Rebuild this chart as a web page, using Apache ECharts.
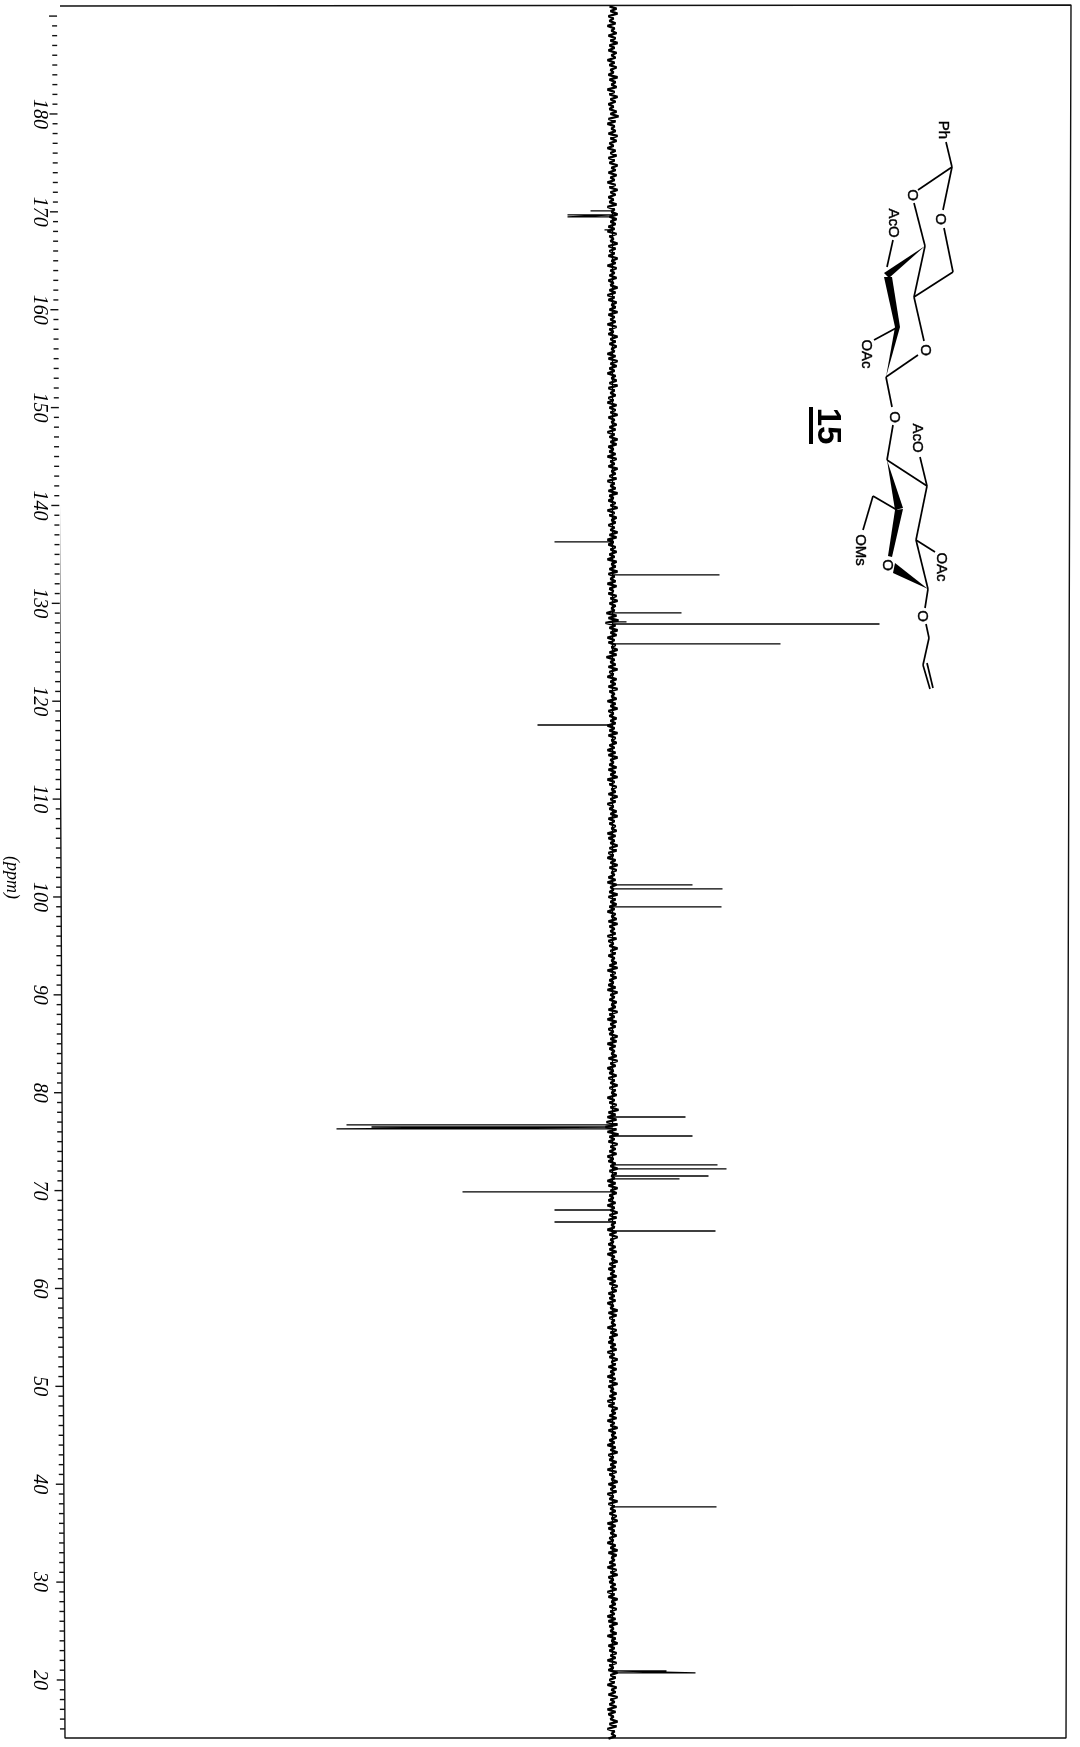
<!DOCTYPE html>
<html>
<head>
<meta charset="utf-8">
<style>html,body{margin:0;padding:0;background:#fff}#c{width:1080px;height:1747px}</style>
<script src="https://cdn.jsdelivr.net/npm/echarts@6/dist/echarts.min.js"></script>
</head>
<body>
<div id="c"></div>
<script>
// Tick labels on the chemical-shift axis (ppm)
const tickLabels = [20,30,40,50,60,70,80,90,100,110,120,130,140,150,160,170,180];
// Peaks: position (ppm) and signed height (arbitrary intensity; + up-phase, - inverted)
const peakPpm = [170.09,169.68,169.48,168.15,136.27,132.90,129.02,128.10,127.89,125.85,117.57,101.23,100.82,98.98,
  77.52,76.71,76.50,76.30,75.58,72.62,72.21,71.49,71.19,69.86,68.02,66.79,65.87,37.68,20.92,20.72];
const peakHeight = [-22,-45,-45,-8,-58,107,69,14,267,168,-75,80,110,109,
  73,-266,-241,-276,80,105,114,96,67,-150,-58,-58,103,104,54,83];
// Baseline noise, one value every 0.25 ppm from 191 ppm downward
const noiseStartPpm = 191, noiseStepPpm = 0.25;
const noise = [
 -3,4,-2,5,-4,1,-3,3,-5,2,-1,4,-4,3,-2,5,-3,2,-4,4,-1,3,-5,2,-3,
 4,-2,1,-4,5,-3,3,-1,4,-5,2,-3,5,-2,3,-4,1,-3,4,-2,6,-4,3,-5,2,
 -1,3,-4,5,-2,4,-3,1,-5,3,-2,4,-4,2,-3,5,-1,3,-4,4,-2,2,-5,3,-3,
 5,-2,3,-4,1,-3,4,-5,2,-1,5,-3,4,-2,3,-4,2,-5,4,-3,1,-2,5,-4,3,
 -3,2,-4,5,-1,3,-5,4,-2,2,-3,4,-4,1,-2,5,-3,3,-5,2,-4,4,-1,3,-3,
 5,-4,2,-2,3,-5,4,-3,1,-4,5,-2,3,-3,4,-1,2,-5,3,-4,5,-2,4,-3,2,
 -5,3,-1,4,-3,5,-4,2,-2,3,-4,1,-5,4,-3,3,-2,5,-4,2,-1,4,-3,3,-5,
 2,-3,5,-2,4,-4,1,-3,3,-5,4,-2,2,-4,5,-1,3,-3,4,-5,2,-2,3,-4,5,
 -3,1,-4,3,-2,5,-5,2,-3,4,-1,3,-4,2,-2,5,-3,4,-5,1,-4,3,-2,4,-3,
 2,-5,4,-1,3,-3,5,-4,2,-2,3,-5,4,-3,1,-4,4,-2,5,-3,3,-1,2,-6,4,
 -4,6,-7,3,-3,5,-2,4,-5,2,-4,3,-1,5,-3,4,-6,2,-2,3,-4,5,-3,1,-5,
 4,-2,3,-4,5,-3,2,-1,4,-5,3,-2,5,-4,1,-3,4,-2,3,-5,2,-3,5,-4,3,
 -1,4,-3,2,-5,3,-4,5,-2,1,-3,4,-4,3,-2,5,-5,2,-3,4,-1,3,-4,5,-2,
 3,-5,1,-3,4,-2,5,-4,2,-3,3,-1,4,-5,3,-4,2,-2,5,-3,4,-4,1,-5,3,
 -2,5,-3,4,-1,2,-4,3,-5,4,-2,1,-3,5,-4,3,-2,4,-3,2,-5,3,-1,4,-4,
 5,-3,2,-2,3,-5,4,-4,1,-3,5,-2,3,-4,2,-1,4,-3,5,-5,3,-2,4,-3,1,
 -4,3,-5,5,-2,2,-3,4,-1,3,-4,5,-3,2,-5,4,-2,3,-4,1,-3,5,-2,4,-5,
 3,-3,2,-1,4,-4,5,-2,3,-5,1,-3,4,-4,2,-2,5,-3,3,-1,4,-5,2,-3,4,
 -2,6,-4,3,-5,4,-6,5,-7,4,-5,6,-3,2,-4,5,-2,3,-3,4,-5,1,-4,3,-2,
 5,-3,4,-1,2,-5,3,-4,5,-2,4,-3,1,-4,3,-5,2,-2,5,-3,4,-4,3,-1,2,
 -5,4,-3,5,-2,1,-4,3,-3,4,-5,2,-1,5,-3,3,-4,2,-2,4,-5,3,-3,5,-1,
 4,-4,2,-3,3,-5,1,-2,5,-4,4,-3,2,-1,3,-5,4,-2,5,-3,1,-4,3,-2,4,
 -5,2,-3,5,-1,3,-4,4,-2,2,-5,3,-3,5,-4,1,-2,4,-3,3,-5,2,-4,5,-1,
 3,-3,4,-5,2,-2,5,-4,3,-1,4,-3,2,-5,3,-2,5,-4,1,-3,4,-2,3,-5,4,
 -3,2,-1,5,-4,3,-2,4,-5,1,-3,5,-4,2,-2,3,-3,4,-1,5,-5,3,-4,2,-2,
 4,-3,1,-5,3,-2,5,-4,4,-1,2,-3,3,-5,4,-2,5,-4,1,-3,3,-2,4,-5,2,
 -4,5,-1,3,-3,4,-2,2,-5,3,-4,5,-3,1,-2,4,-5,3,-1,5,-4,2,-3,4,-2,
 3,-5,4,-3,1,-4,5,-2,3,-3,2,-5,4,-1,3,-4,5,-2,2,-3,4,-5,3,-4,1,
 -2,5,-3,4,-5,2,-1,3,-4
];
// Frame corners: intensity (same arbitrary scale) and ppm
const frameIntensity = [-555.5,458.5,453.5,-547.5,-555.5];
const framePpm = [191.03,191.14,14.07,14.07,191.03];
// Chemical structure 15 (an annotation of the figure)
const bonds = [
 [946,142,952,167],[952,167,918,190],[952,167,943,210],[914,203,925,246],[944,228,953,272],
 [953,272,914,297],[925,246,914,297],[914,297,924,341],[918,355,886,377],[893,240,887,267],
 [874,340,898,327],[886,377,892,407],[893,425,887,460],[887,460,927,486],[920,457,927,486],
 [927,486,916,540],[916,540,935,552],[916,540,928,589],[897,510,873,496],[873,496,863,530],
 [928,589,925,608],[926,624,929,638],[929,638,923,665],[923,665,930,689],[927,663,933,688]
];
const wedges = [
 [[925,246],[884,273],[889,278]],
 [[884,277],[892,277],[900,327],[895,327]],
 [[895,327],[900,327],[886,377]],
 [[887,460],[903,508],[895,510]],
 [[895,510],[903,509],[892,557],[888,556]],
 [[928,589],[895,563],[893,573]]
];
const atomLabels = [
 ['Ph',943,130],['O',912,195],['O',940,219],['AcO',893,223],['O',925,350],['OAc',866,354],
 ['O',894,417],['AcO',917,438],['OMs',860,550],['OAc',941,567],['O',887,565],['O',922,616]
];

const spec = [];
peakPpm.forEach((p,i)=>{spec.push([0,p],[peakHeight[i],p],[0,p]);});
const trace = noise.map((v,i)=>[v, noiseStartPpm - i*noiseStepPpm]);
const tickData = [];
for (let p=15;p<=190;p++) tickData.push([p%10===0?8:5,p]);
const edgeX = p => frameIntensity[0] + (frameIntensity[3]-frameIntensity[0])*(framePpm[0]-p)/(framePpm[0]-framePpm[3]);

const graphics = [];
bonds.forEach(b=>graphics.push({type:'line',silent:true,shape:{x1:b[0],y1:b[1],x2:b[2],y2:b[3]},style:{stroke:'#000',lineWidth:1.7}}));
wedges.forEach(w=>graphics.push({type:'polygon',silent:true,shape:{points:w},style:{fill:'#000'}}));
atomLabels.forEach(a=>graphics.push({type:'text',silent:true,x:a[1],y:a[2],rotation:-Math.PI/2,
  style:{text:a[0],x:0,y:0,align:'center',verticalAlign:'middle',font:'15px "Liberation Sans"',fill:'#000',stroke:'#000',lineWidth:0.4}}));
graphics.push({type:'text',silent:true,x:827,y:426,rotation:-Math.PI/2,
  style:{text:'15',x:0,y:0,align:'center',verticalAlign:'middle',font:'bold 33px "Liberation Sans"',fill:'#000'}});
graphics.push({type:'rect',silent:true,shape:{x:809,y:407,width:4,height:37},style:{fill:'#000'}});

const chart = echarts.init(document.getElementById('c'),null,{renderer:'canvas'});
chart.setOption({
 animation:false,
 backgroundColor:'#fff',
 grid:{left:61,right:0,top:6.3,height:1732.4,containLabel:false,outerBoundsMode:'none'},
 xAxis:{type:'value',min:-551.5,max:467.5,show:false},
 yAxis:{type:'value',min:14,max:191,
  name:'(ppm)',nameLocation:'middle',nameRotate:-90,nameGap:40,
  nameTextStyle:{fontFamily:'Liberation Serif',fontStyle:'italic',fontSize:18,color:'#000',padding:[0,0,0,10]},
  axisLine:{show:false},axisTick:{show:false},splitLine:{show:false},
  axisLabel:{customValues:tickLabels,rotate:-90,margin:12,fontFamily:'Liberation Serif',fontStyle:'italic',fontSize:20,color:'#000'}},
 graphic:graphics,
 series:[
  {name:'frame',type:'line',clip:false,silent:true,symbol:'none',data:frameIntensity.map((x,i)=>[x,framePpm[i]]),lineStyle:{color:'#111',width:1.4}},
  {name:'ticks',type:'custom',clip:false,silent:true,data:tickData,renderItem:(params,api)=>{
    const len=api.value(0),p=api.value(1),pt=api.coord([edgeX(p),p]);
    return {type:'line',shape:{x1:pt[0]-len,y1:pt[1],x2:pt[0],y2:pt[1]},style:{stroke:'#111',lineWidth:1.4}};
  }},
  {name:'peaks',type:'line',silent:true,symbol:'none',data:spec,lineStyle:{color:'#000',width:1.3}},
  {name:'baseline',type:'line',silent:true,symbol:'none',data:trace,lineStyle:{color:'#000',width:2.4}}
 ]
});
</script>
</body>
</html>
